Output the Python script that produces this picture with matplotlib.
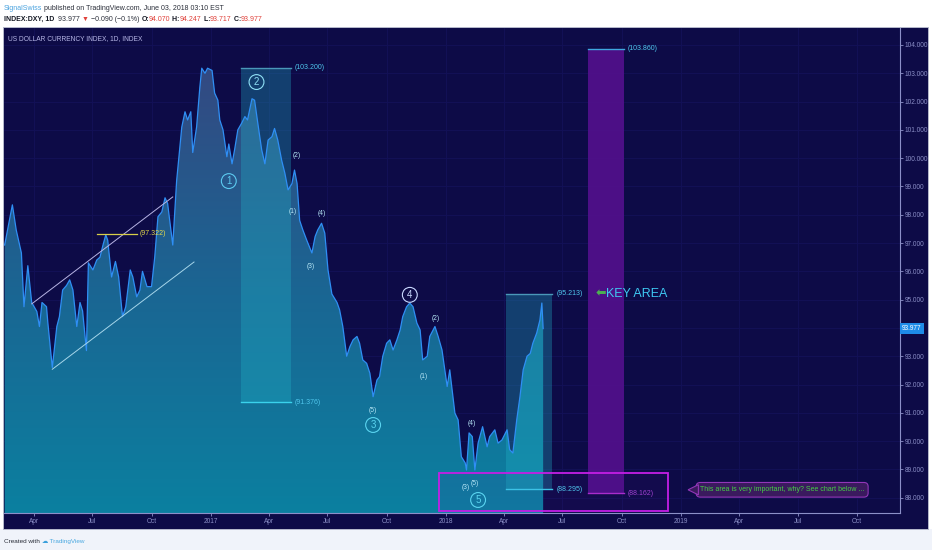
import numpy as np
import pandas as pd
import matplotlib
matplotlib.use("Agg")
import matplotlib.pyplot as plt
import matplotlib.dates as mdates
from matplotlib import font_manager
from matplotlib.colors import LinearSegmentedColormap, to_rgba
from matplotlib.patches import Rectangle, Polygon
from matplotlib.ticker import MultipleLocator, FuncFormatter

dates = [
    "2016-02-16", "2016-02-28", "2016-03-05", "2016-03-13", "2016-03-17", "2016-03-23",
    "2016-03-29", "2016-04-06", "2016-04-10", "2016-04-14", "2016-04-21", "2016-04-23",
    "2016-04-30", "2016-05-07", "2016-05-11", "2016-05-16", "2016-05-22", "2016-05-27",
    "2016-06-01", "2016-06-07", "2016-06-12", "2016-06-16", "2016-06-22", "2016-06-25",
    "2016-07-02", "2016-07-08", "2016-07-13", "2016-07-17", "2016-07-22", "2016-07-25",
    "2016-07-31", "2016-08-06", "2016-08-11", "2016-08-17", "2016-08-22", "2016-08-29",
    "2016-09-02", "2016-09-08", "2016-09-13", "2016-09-17", "2016-09-24", "2016-10-01",
    "2016-10-06", "2016-10-11", "2016-10-17", "2016-10-22", "2016-10-26", "2016-11-03",
    "2016-11-09", "2016-11-17", "2016-11-22", "2016-11-26", "2016-12-01", "2016-12-04",
    "2016-12-10", "2016-12-15", "2016-12-18", "2016-12-23", "2016-12-27", "2017-01-03",
    "2017-01-07", "2017-01-12", "2017-01-15", "2017-01-20", "2017-01-26", "2017-01-29",
    "2017-02-03", "2017-02-07", "2017-02-12", "2017-02-18", "2017-02-23", "2017-02-27",
    "2017-03-06", "2017-03-10", "2017-03-15", "2017-03-21", "2017-03-26", "2017-03-31",
    "2017-04-06", "2017-04-10", "2017-04-15", "2017-04-21", "2017-04-26", "2017-05-01",
    "2017-05-07", "2017-05-11", "2017-05-15", "2017-05-19", "2017-05-24", "2017-05-30",
    "2017-06-07", "2017-06-12", "2017-06-16", "2017-06-22", "2017-06-27", "2017-07-02",
    "2017-07-08", "2017-07-16", "2017-07-20", "2017-07-25", "2017-07-31", "2017-08-05",
    "2017-08-10", "2017-08-16", "2017-08-20", "2017-08-25", "2017-08-31", "2017-09-05",
    "2017-09-10", "2017-09-16", "2017-09-20", "2017-09-25", "2017-10-01", "2017-10-06",
    "2017-10-11", "2017-10-17", "2017-10-22", "2017-10-26", "2017-11-01", "2017-11-06",
    "2017-11-11", "2017-11-17", "2017-11-22", "2017-11-26", "2017-12-03", "2017-12-07",
    "2017-12-15", "2017-12-20", "2017-12-26", "2018-01-03", "2018-01-07", "2018-01-15",
    "2018-01-20", "2018-01-25", "2018-01-31", "2018-02-02", "2018-02-06", "2018-02-11",
    "2018-02-15", "2018-02-20", "2018-02-27", "2018-03-06", "2018-03-10", "2018-03-18",
    "2018-03-23", "2018-03-29", "2018-04-06", "2018-04-10", "2018-04-15", "2018-04-21",
    "2018-04-26", "2018-05-01", "2018-05-07", "2018-05-12", "2018-05-16", "2018-05-22",
    "2018-05-27", "2018-05-30", "2018-06-01",
]
closes = [
    96.93, 98.35, 97.46, 96.65, 94.75, 96.20,
    94.90, 94.58, 94.05, 94.90, 94.75, 94.20,
    92.60, 94.05, 94.40, 95.34, 95.50, 95.70,
    95.34, 94.05, 94.90, 94.60, 93.20, 96.30,
    96.05, 96.40, 96.50, 96.87, 97.29, 97.10,
    95.80, 96.35, 95.80, 94.40, 94.75, 96.05,
    95.80, 95.10, 95.34, 96.00, 95.46, 95.46,
    96.50, 97.93, 98.10, 98.60, 98.40, 96.93,
    99.20, 101.10, 101.64, 101.35, 101.64, 100.20,
    101.10, 102.50, 103.18, 103.00, 103.18, 103.10,
    102.30, 102.05, 101.35, 101.00, 100.05, 100.50,
    99.80, 100.30, 101.00, 101.24, 101.47, 101.35,
    102.10, 102.05, 101.24, 100.30, 99.80, 100.64,
    100.76, 101.05, 100.64, 99.93, 99.47, 98.88,
    99.10, 99.58, 99.10, 97.80, 97.46, 97.10,
    96.65, 97.23, 97.46, 97.70, 97.35, 96.05,
    95.20, 94.90, 94.64, 94.05, 93.00, 93.34,
    93.58, 93.70, 93.46, 92.87, 92.75, 92.40,
    91.57, 92.16, 92.28, 93.00, 93.46, 93.58,
    93.22, 93.58, 93.93, 94.40, 94.75, 94.88,
    94.75, 94.17, 93.93, 92.87, 93.00, 93.70,
    94.05, 93.70, 93.22, 91.93, 92.52, 90.99,
    90.75, 89.45, 89.23, 88.98, 90.29, 90.16,
    88.98, 89.93, 90.51, 89.80, 90.16, 90.40,
    89.93, 90.04, 90.40, 89.70, 89.58, 90.75,
    91.57, 92.52, 93.00, 93.10, 93.46, 93.82,
    94.28, 94.88, 93.977,
]
last_close = 93.977

# drawing annotations (start date, end date, low, high)
wave2_box = ("2017-02-17", "2017-05-05", 91.376, 103.200)
recent_box = ("2018-04-04", "2018-06-15", 88.295, 95.213)
target_box = ("2018-08-10", "2018-10-04", 88.162, 103.860)
key_zone = ("2017-12-21", "2018-12-12", 87.53, 88.88)
resist_line = ("2016-07-09", "2016-09-08", 97.322)
channel_upper = (("2016-03-29", 94.85), ("2016-11-03", 98.63))
channel_lower = (("2016-04-30", 92.54), ("2016-12-06", 96.33))

wave_major = [("1", "2017-01-29", 99.19), ("2", "2017-03-13", 102.69),
              ("3", "2017-09-10", 90.57), ("4", "2017-11-06", 95.17),
              ("5", "2018-02-20", 87.92)]
wave_minor = [("(2)", "2017-05-15", 100.08), ("(1)", "2017-05-08", 98.10),
              ("(4)", "2017-06-23", 98.03), ("(3)", "2017-06-05", 96.16),
              ("(5)", "2017-09-10", 91.07), ("(2)", "2017-12-16", 94.32),
              ("(1)", "2017-11-28", 92.30), ("(4)", "2018-02-10", 90.64),
              ("(3)", "2018-01-31", 88.35), ("(5)", "2018-02-15", 88.52)]

x_range = ("2016-02-15", "2019-12-07")
y_range = (87.46, 104.60)

NAVY = "#0d0b47"
GRID = "#131158"
AXC = "#8c90c8"
CYAN = "#4fc6ec"

names = {f.name for f in font_manager.fontManager.ttflist}
main_font = "Liberation Sans Narrow" if "Liberation Sans Narrow" in names else "Liberation Sans"
plt.rcParams["font.family"] = [main_font, "DejaVu Sans"]

W, H = 932, 550
fig = plt.figure(figsize=(W / 100, H / 100), dpi=100)
fig.patch.set_facecolor("white")

# background / frame in pixel coords
bg = fig.add_axes([0, 0, 1, 1], zorder=0)
bg.set_xlim(0, W)
bg.set_ylim(H, 0)
bg.axis("off")
bg.add_patch(Rectangle((0, 529), W, 21, fc="#f0f3fa", ec="none"))
bg.add_patch(Rectangle((3, 27), 925, 502, fc=NAVY, ec="#b5b9cc", lw=0.7))

ax = fig.add_axes([4 / W, 1 - 513 / H, 896 / W, 485 / H], zorder=1)
ax.set_facecolor(NAVY)

x = pd.to_datetime(dates)
xn = mdates.date2num(x)
d = lambda s: mdates.date2num(pd.Timestamp(s))
x0, x1 = d(x_range[0]), d(x_range[1])
ax.set_xlim(x0, x1)
ax.set_ylim(*y_range)

# gradient area under price
cmap = LinearSegmentedColormap.from_list(
    "area", [(0.0, "#0b80a0"), (0.45, "#1a6693"), (1.0, "#38447f")])
grad = np.linspace(0, 1, 256).reshape(-1, 1)
im = ax.imshow(grad, extent=[x0, x1, y_range[0], y_range[1]], origin="lower",
               aspect="auto", cmap=cmap, zorder=1)
poly = ax.fill_between(xn, closes, y_range[0], color="none", lw=0)
clip = poly.get_paths()[0]
im.set_clip_path(clip, transform=ax.transData)
ax.plot(xn, closes, color="#2f8ff5", lw=0.9, zorder=3)

# grid
ax.yaxis.set_major_locator(MultipleLocator(1))
ax.xaxis.set_major_locator(mdates.MonthLocator(bymonth=[1, 4, 7, 10]))
ax.grid(True, color=GRID, lw=0.6, zorder=0)
ax.set_axisbelow(True)


def fmt_date(v, pos):
    dt = mdates.num2date(v)
    return dt.strftime("%Y") if dt.month == 1 else dt.strftime("%b")


def fmt_price(v, pos):
    # the last-price tag hides the nearest level
    if abs(v - last_close) < 0.5:
        return ""
    return f"{v:.3f}"


ax.xaxis.set_major_formatter(FuncFormatter(fmt_date))
ax.yaxis.set_major_formatter(FuncFormatter(fmt_price))
ax.yaxis.tick_right()
ax.tick_params(axis="both", colors=AXC, labelsize=4.7, length=2, width=0.6, pad=1.5)
for s in ("left", "top"):
    ax.spines[s].set_visible(False)
for s in ("right", "bottom"):
    ax.spines[s].set_color(AXC)
    ax.spines[s].set_linewidth(0.8)


def box(spec, fc, alpha, top_c, bot_c, top_lbl_c, bot_lbl_c):
    a, b, lo, hi = spec
    xa, xb = d(a), d(b)
    ax.add_patch(Rectangle((xa, lo), xb - xa, hi - lo, fc=fc, alpha=alpha, ec="none", zorder=2))
    ax.plot([xa, xb], [hi, hi], color=top_c, lw=1.0, zorder=4)
    ax.plot([xa, xb], [lo, lo], color=bot_c, lw=1.0, zorder=4)
    ax.annotate(f"({hi:.3f})", (xb, hi), xytext=(3, 0), textcoords="offset points",
                color=top_lbl_c, fontsize=5, va="center", zorder=5)
    ax.annotate(f"({lo:.3f})", (xb, lo), xytext=(3, 0), textcoords="offset points",
                color=bot_lbl_c, fontsize=5, va="center", zorder=5)


box(wave2_box, "#22b8cc", 0.30, "#4a98b8", "#3ad2ec", CYAN, CYAN)
box(recent_box, "#22b8cc", 0.30, "#4a98b8", "#3ad2ec", CYAN, CYAN)
box(target_box, "#52108c", 0.92, "#3fa8e0", "#b030d0", CYAN, "#a040d0")

# key zone outline
a, b, lo, hi = key_zone
ax.add_patch(Rectangle((d(a), lo), d(b) - d(a), hi - lo, fc=to_rgba("#5a10a0", 0.08),
                       ec="#c41ee6", lw=1.3, zorder=4))

# channel and resistance
for (p, q), col in ((channel_upper, "#b7b4e4"), (channel_lower, "#a6d6ea")):
    ax.plot([d(p[0]), d(q[0])], [p[1], q[1]], color=col, lw=0.7, zorder=4)
a, b, lv = resist_line
ax.plot([d(a), d(b)], [lv, lv], color="#d8cf48", lw=0.9, zorder=4)
ax.annotate(f"({lv:.3f})", (d(b), lv), xytext=(2, 0), textcoords="offset points",
            color="#e2d84a", fontsize=5, va="center", zorder=5)

# wave labels
major_cols = ["#5ccaf0", "#8fe0f6", "#5ad4f0", "#c9d8ff", "#5ad4f0"]
for (lbl, dt, v), col in zip(wave_major, major_cols):
    ax.text(d(dt), v, lbl, color=col, fontsize=7, ha="center", va="center", zorder=6,
            bbox=dict(boxstyle="circle,pad=0.25", fc="none", ec=col, lw=0.8))
for lbl, dt, v in wave_minor:
    ax.text(d(dt), v, lbl, color="#b6e6f6", fontsize=4.8, ha="center", va="center", zorder=6)

# KEY AREA
ax.text(d("2018-08-21"), recent_box[3], "\u2b05", color="#4caf50", fontsize=9,
        ha="left", va="center", family=["DejaVu Sans"], zorder=6)
ax.text(d("2018-09-06"), recent_box[3], "KEY AREA", color="#3ec8f2", fontsize=9,
        ha="left", va="center", zorder=6)

# callout
ax.text(d("2019-06-07"), 88.28, "This area is very important, why? See chart below ...",
        color="#45d045", fontsize=5, ha="center", va="center", zorder=6,
        bbox=dict(boxstyle="round,pad=0.55,rounding_size=0.6", fc="#3a1a5e", ec="#9236b8", lw=0.8))
ax.add_patch(Polygon([(d("2019-01-12"), 88.28), (d("2019-01-28"), 88.46), (d("2019-01-28"), 88.10)],
                     closed=True, fc="#3a1a5e", ec="#9236b8", lw=0.8, zorder=6))

# current price tag
ax.annotate(f"{last_close:.3f}", (1, last_close), xycoords=("axes fraction", "data"),
            xytext=(1.5, 0), textcoords="offset points", color="white", fontsize=4.7,
            va="center", ha="left", annotation_clip=False, zorder=7,
            bbox=dict(boxstyle="square,pad=0.35", fc="#1e8ce8", ec="none"))
ax.text(0.004, 0.985, "US DOLLAR CURRENCY INDEX, 1D, INDEX", transform=ax.transAxes,
        color="#b8b8e8", fontsize=4.8, va="top", ha="left", zorder=7)

# header / footer
top = fig.add_axes([0, 0, 1, 1], zorder=5)
top.set_xlim(0, W)
top.set_ylim(H, 0)
top.axis("off")
top.patch.set_alpha(0)


def chain(px, py, parts, size=5.0):
    t = None
    for s, c, w in parts:
        if t is None:
            t = top.text(px, py, s, color=c, fontsize=size, weight=w, va="bottom", ha="left")
        else:
            t = top.annotate(s, xy=(1, 0), xycoords=t, va="bottom", ha="left",
                             color=c, fontsize=size, weight=w)
    return t


DARK = "#2a2e39"
RED = "#e0413a"
chain(4, 12, [("SignalSwiss", "#4aa3df", "normal"),
              (" published on TradingView.com, June 03, 2018 03:10 EST", DARK, "normal")])
chain(4, 23, [("INDEX:DXY, 1D", "#131722", "bold"), ("  93.977 ", DARK, "normal"),
              ("\u25bc", RED, "normal"), (" \u22120.090 (\u22120.1%) ", DARK, "normal"),
              ("O:", "#131722", "bold"), ("94.070", RED, "normal"),
              (" H:", "#131722", "bold"), ("94.247", RED, "normal"),
              (" L:", "#131722", "bold"), ("93.717", RED, "normal"),
              (" C:", "#131722", "bold"), ("93.977", RED, "normal")])
chain(4, 544, [("Created with ", DARK, "normal"), ("\u2601", "#3aa0dc", "normal"),
               (" TradingView", "#4aa8e0", "normal")], size=4.6)

fig.savefig("out.png", dpi=100, facecolor=fig.get_facecolor())
